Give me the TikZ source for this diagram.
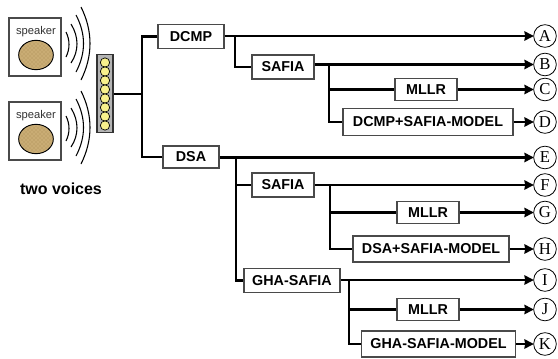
\documentclass[tikz,border=0pt]{standalone}
\usepackage{fontspec}
\setmainfont{Liberation Sans}
\newfontfamily\lettersfont{Liberation Serif}
\usetikzlibrary{arrows.meta, patterns, shapes.geometric}
\definecolor{darkgray}{HTML}{333333}
\definecolor{boxedge}{HTML}{4A4A4A}
\definecolor{barfill}{HTML}{B4B4B4}
\definecolor{micyellow}{HTML}{F8F08C}
\definecolor{conetan}{HTML}{C9AC74}
\definecolor{conegrain}{HTML}{A88A52}
\tikzset{
  procbox/.style={draw=boxedge, line width=0.8pt, fill=white, inner sep=0pt,
                  font=\fontsize{10.75}{12}\selectfont\bfseries, align=center},
  speakerbox/.style={draw=boxedge, line width=0.8pt, fill=white, inner sep=0pt,
                     minimum width=39pt, minimum height=43.5pt},
  outcircle/.style={circle, draw=black, line width=0.6pt, fill=white, inner sep=0pt,
                    minimum size=17pt, font=\lettersfont\fontsize{12.5}{13}\selectfont},
  flowline/.style={line width=1.7pt, black},
  flowarrow/.style={flowline, -{Stealth[length=7pt, width=7pt, inset=0.5pt]}, shorten >=-0.4pt},
  wavearc/.style={line width=0.8pt, black},
}

\begin{document}
\begin{tikzpicture}[x=0.75pt, y=-0.75pt]
  \useasboundingbox (0,0) rectangle (558,358);

  % speakers
  \node[speakerbox] (spkA) at (35,47) {};
  \node[speakerbox] (spkB) at (35,131) {};
  \foreach \spk/\yy in {spkA/44, spkB/128} {
    \node[font=\fontsize{8.4}{10}\selectfont, text=darkgray] at (36,\yy-12) {speaker};
    \node[ellipse, draw=black, line width=0.7pt, fill=conetan, minimum width=26pt, minimum height=22pt, inner sep=0pt] (cone\spk) at (36,\yy+11) {};
    \path[pattern=crosshatch dots, pattern color=conegrain] (36,\yy+11) ellipse [x radius=16, y radius=13];
    \draw[wavearc] (66,\yy-12) .. controls (70,\yy-4) and (70,\yy+5) .. (66,\yy+13);
    \draw[wavearc] (71,\yy-20) .. controls (79,\yy-7) and (79,\yy+7) .. (71,\yy+19);
    \draw[wavearc] (76,\yy-29) .. controls (86,\yy-10) and (86,\yy+9) .. (76,\yy+28);
    \draw[wavearc] (81,\yy-37) .. controls (93,\yy-13) and (93,\yy+12) .. (81,\yy+36);
  }
  \node[font=\fontsize{12}{14}\selectfont\bfseries] (voices) at (61,189) {two voices};

  % microphone array
  \node[draw=darkgray, line width=0.8pt, fill=barfill, minimum width=12pt, minimum height=59pt, inner sep=0pt] (micbar) at (105,93.5) {};
  \foreach \yy in {62.5,71.5,...,126} {
    \node[circle, draw=black, line width=0.5pt, fill=micyellow, minimum size=7pt, inner sep=0pt] at (105,\yy) {};
  }

  % boxes
  \node[procbox, minimum width=49.5pt, minimum height=18.5pt] (dcmp) at (191,36.5) {DCMP};
  \node[procbox, minimum width=46.5pt, minimum height=18pt] (safiaA) at (283,67) {SAFIA};
  \node[procbox, minimum width=46.5pt, minimum height=16pt] (mllrA) at (426,89.5) {MLLR};
  \node[procbox, minimum width=127.5pt, minimum height=20pt] (modelA) at (428,122) {DCMP+SAFIA-MODEL};
  \node[procbox, minimum width=42pt, minimum height=16.5pt] (dsa) at (191,157) {DSA};
  \node[procbox, minimum width=46.5pt, minimum height=18pt] (safiaB) at (283,185) {SAFIA};
  \node[procbox, minimum width=46.5pt, minimum height=16pt] (mllrB) at (428,212.5) {MLLR};
  \node[procbox, minimum width=117pt, minimum height=19.5pt] (modelB) at (431,249) {DSA+SAFIA-MODEL};
  \node[procbox, minimum width=72pt, minimum height=17.5pt] (gha) at (292,280.5) {GHA-SAFIA};
  \node[procbox, minimum width=46.5pt, minimum height=16pt] (mllrC) at (428,309.5) {MLLR};
  \node[procbox, minimum width=116pt, minimum height=19.5pt] (modelC) at (438.5,344) {GHA-SAFIA-MODEL};

  % outputs
  \node[outcircle] (A) at (545,36) {A};
  \node[outcircle] (B) at (545,64.5) {B};
  \node[outcircle] (C) at (545,89.5) {C};
  \node[outcircle] (D) at (545,122) {D};
  \node[outcircle] (E) at (545,157.5) {E};
  \node[outcircle] (F) at (545,185) {F};
  \node[outcircle] (G) at (545,212.5) {G};
  \node[outcircle] (H) at (545,249) {H};
  \node[outcircle] (I) at (545,280) {I};
  \node[outcircle] (J) at (545,309.5) {J};
  \node[outcircle] (K) at (545,344) {K};

  % trunk and forks
  \coordinate (hub) at (142,94);
  \coordinate (forkdcmp) at (235,36);
  \coordinate (forksafiaA) at (329,64.5);
  \coordinate (forkdsa) at (236,157.5);
  \coordinate (forksafiaB) at (330,185);
  \coordinate (forkgha) at (349,280);
  \draw[flowline] (micbar.east |- hub) -- (hub);
  \draw[flowline] (dcmp.west) -| (hub);
  \draw[flowline] (dsa.west) -| (hub);
  \draw[flowline] (forkdcmp) |- (safiaA.west);
  \draw[flowline] (forkdsa) |- (safiaB.west);
  \draw[flowline] (forkdsa) |- (gha.west);
  \draw[flowline] (forksafiaA) |- (mllrA.west);
  \draw[flowline] (forksafiaA) |- (modelA.west);
  \draw[flowline] (forksafiaB) |- (mllrB.west);
  \draw[flowline] (forksafiaB) |- (modelB.west);
  \draw[flowline] (forkgha) |- (mllrC.west);
  \draw[flowline] (forkgha) |- (modelC.west);

  \draw[flowarrow] (dcmp.east |- A) -- (A);
  \draw[flowarrow] (safiaA.east |- B) -- (B);
  \draw[flowarrow] (mllrA.east) -- (C);
  \draw[flowarrow] (modelA.east) -- (D);
  \draw[flowarrow] (dsa.east |- E) -- (E);
  \draw[flowarrow] (safiaB.east) -- (F);
  \draw[flowarrow] (mllrB.east) -- (G);
  \draw[flowarrow] (modelB.east) -- (H);
  \draw[flowarrow] (gha.east |- I) -- (I);
  \draw[flowarrow] (mllrC.east) -- (J);
  \draw[flowarrow] (modelC.east) -- (K);
\end{tikzpicture}
\end{document}
